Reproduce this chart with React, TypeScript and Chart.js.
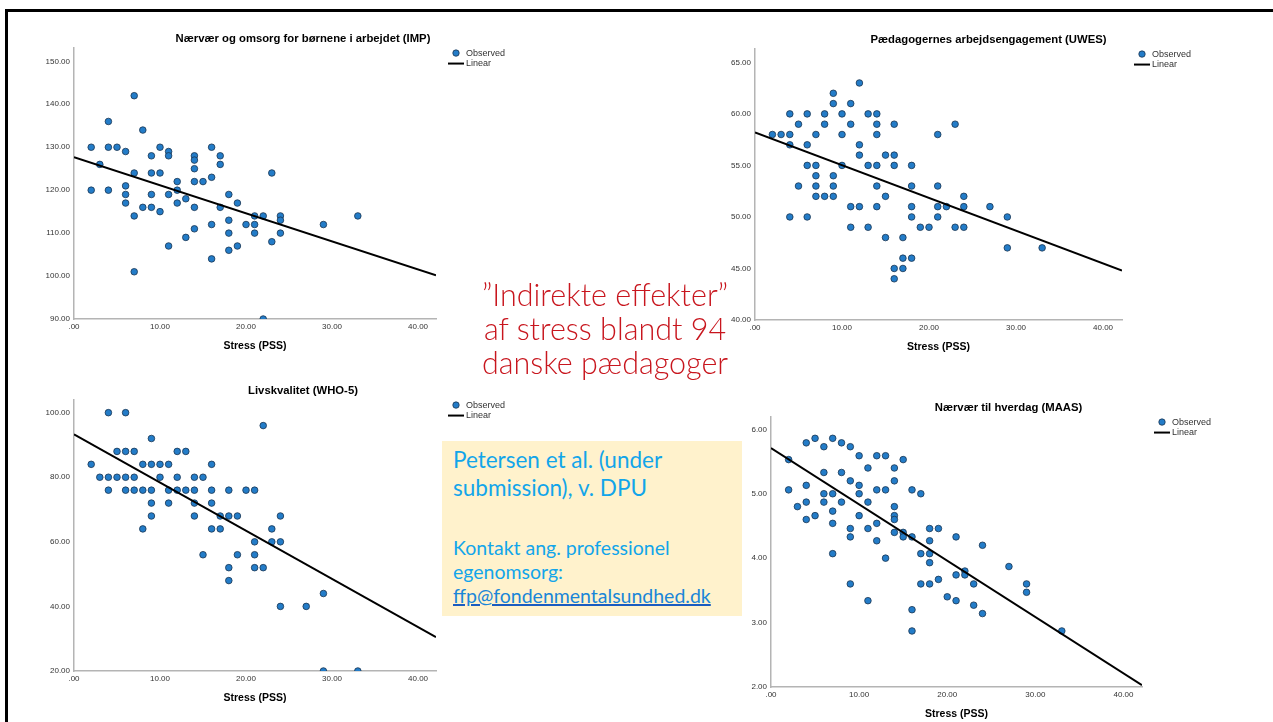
import React, { useEffect, useRef } from "react";
import { Chart, registerables } from "chart.js";
Chart.register(...registerables);

// ---------- data ----------
const legendLabels = ["Observed", "Linear"];
const xAxisTitle = "Stress (PSS)";
const stressTicks = [0, 10, 20, 30, 40];

const impTitle = "Nærvær og omsorg for børnene i arbejdet (IMP)";
const impStress = [2, 2, 3, 4, 4, 4, 5, 6, 6, 6, 6, 7, 7, 7, 7, 8, 8, 9, 9, 9, 9, 10, 10, 10, 11, 11, 11, 11, 12, 12, 12, 13, 13, 14, 14, 14, 14, 14, 14, 15, 16, 16, 16, 16, 17, 17, 17, 18, 18, 18, 18, 19, 19, 20, 21, 21, 21, 22, 22, 23, 23, 24, 24, 24, 29, 33];
const impValues = [130, 120, 126, 136, 130, 120, 130, 129, 121, 119, 117, 142, 124, 114, 101, 134, 116, 128, 124, 119, 116, 130, 124, 115, 129, 128, 119, 107, 122, 120, 117, 118, 109, 128, 127, 125, 122, 116, 111, 122, 130, 123, 112, 104, 128, 126, 116, 119, 113, 110, 106, 117, 107, 112, 114, 112, 110, 114, 90, 124, 108, 114, 113, 110, 112, 114];
const impTicks = [90, 100, 110, 120, 130, 140, 150];
const impFitX = [0, 42.09];
const impFitY = [127.7, 100.2];

const uwesTitle = "Pædagogernes arbejdsengagement (UWES)";
const uwesStress = [2, 3, 4, 4, 4, 4, 5, 5, 6, 6, 6, 6, 7, 7, 7, 7, 7, 8, 8, 8, 9, 9, 9, 9, 9, 10, 10, 10, 11, 11, 11, 11, 12, 12, 12, 12, 13, 13, 13, 14, 14, 14, 14, 14, 14, 15, 15, 15, 16, 16, 16, 16, 16, 17, 17, 17, 18, 18, 18, 18, 18, 19, 20, 21, 21, 21, 21, 22, 23, 23, 24, 24, 24, 27, 29, 29, 33];
const uwesValues = [58, 58, 60, 58, 57, 50, 59, 53, 60, 57, 55, 50, 58, 55, 54, 53, 52, 60, 59, 52, 62, 61, 54, 53, 52, 60, 58, 55, 61, 59, 51, 49, 63, 57, 56, 51, 60, 55, 49, 60, 59, 58, 55, 53, 51, 56, 52, 48, 59, 56, 55, 45, 44, 48, 46, 45, 55, 53, 51, 50, 46, 49, 49, 58, 53, 51, 50, 51, 59, 49, 52, 51, 49, 51, 50, 47, 47];
const uwesTicks = [40, 45, 50, 55, 60, 65];
const uwesFitX = [0, 42.18];
const uwesFitY = [58.2, 44.8];

const whoTitle = "Livskvalitet (WHO-5)";
const whoStress = [2, 3, 4, 4, 4, 5, 5, 6, 6, 6, 6, 7, 7, 7, 8, 8, 8, 9, 9, 9, 9, 9, 10, 10, 11, 11, 11, 12, 12, 12, 13, 13, 14, 14, 14, 14, 15, 15, 16, 16, 16, 16, 17, 17, 18, 18, 18, 18, 19, 19, 20, 21, 21, 21, 21, 22, 22, 23, 23, 24, 24, 24, 27, 29, 29, 33];
const whoValues = [84, 80, 100, 80, 76, 88, 80, 100, 88, 80, 76, 88, 80, 76, 84, 76, 64, 92, 84, 76, 72, 68, 84, 80, 84, 76, 72, 88, 80, 76, 88, 76, 80, 76, 72, 68, 80, 56, 84, 76, 72, 64, 68, 64, 76, 68, 52, 48, 68, 56, 76, 76, 60, 56, 52, 96, 52, 64, 60, 68, 60, 40, 40, 44, 20, 20];
const whoTicks = [20, 40, 60, 80, 100];
const whoFitX = [0, 42.09];
const whoFitY = [93.3, 30.5];

const maasTitle = "Nærvær til hverdag (MAAS)";
const maasStress = [2, 2, 3, 4, 4, 4, 4, 5, 5, 6, 6, 6, 6, 7, 7, 7, 7, 7, 8, 8, 8, 9, 9, 9, 9, 9, 10, 10, 10, 10, 11, 11, 11, 11, 12, 12, 12, 12, 13, 13, 13, 14, 14, 14, 14, 14, 14, 15, 15, 15, 16, 16, 16, 16, 17, 17, 17, 18, 18, 18, 18, 18, 19, 19, 20, 21, 21, 21, 22, 22, 23, 23, 24, 24, 27, 29, 29, 33];
const maasValues = [5.53, 5.06, 4.8, 5.79, 5.13, 4.87, 4.6, 5.86, 4.66, 5.73, 5.33, 5.0, 4.87, 5.86, 5.0, 4.73, 4.54, 4.07, 5.79, 5.33, 4.87, 5.73, 5.2, 4.46, 4.33, 3.6, 5.59, 5.13, 5.0, 4.66, 5.4, 4.87, 4.46, 3.34, 5.59, 5.06, 4.54, 4.27, 5.59, 5.06, 4.0, 5.4, 5.2, 4.8, 4.66, 4.6, 4.4, 5.53, 4.4, 4.33, 5.06, 4.33, 3.2, 2.87, 5.0, 4.07, 3.6, 4.46, 4.27, 4.07, 3.93, 3.6, 4.46, 3.67, 3.4, 4.33, 3.74, 3.34, 3.8, 3.74, 3.6, 3.27, 4.2, 3.14, 3.87, 3.6, 3.47, 2.87];
const maasTicks = [2, 3, 4, 5, 6];
const maasFitX = [0, 42.1];
const maasFitY = [5.71, 2.03];

const slideTitleLines = ["”Indirekte effekter”", "af stress blandt 94", "danske pædagoger"];
const boxLines1 = ["Petersen et al. (under", "submission), v. DPU"];
const boxLines2 = ["Kontakt ang. professionel", "egenomsorg:"];
const boxEmail = "ffp@fondenmentalsundhed.dk";

// ---------- styles ----------
const SANS = '"Liberation Sans", Arial, sans-serif';
const SLIDE = 'Lato, "Open Sans", sans-serif';
const POINT_FILL = "#237cc8";
const POINT_EDGE = "#1b3550";
const AXIS = "#b4b4b4";
const TICK = "#333333";

const fmt = (v: number) => (v === 0 ? ".00" : Number(v).toFixed(2));

const legendPlugin = {
  id: "spssLegend",
  afterDraw(chart: any) {
    const { ctx, chartArea } = chart;
    const x = chartArea.right + 20;
    const y = chartArea.top + 5.5;
    ctx.save();
    ctx.beginPath();
    ctx.arc(x, y, 3.2, 0, Math.PI * 2);
    ctx.fillStyle = POINT_FILL;
    ctx.fill();
    ctx.lineWidth = 0.8;
    ctx.strokeStyle = POINT_EDGE;
    ctx.stroke();
    ctx.beginPath();
    ctx.moveTo(x - 8, y + 10.5);
    ctx.lineTo(x + 8, y + 10.5);
    ctx.lineWidth = 2;
    ctx.strokeStyle = "#000";
    ctx.stroke();
    ctx.font = `9px ${SANS}`;
    ctx.fillStyle = TICK;
    ctx.textBaseline = "middle";
    ctx.textAlign = "left";
    ctx.fillText(legendLabels[0], x + 10, y);
    ctx.fillText(legendLabels[1], x + 10, y + 10.5);
    ctx.restore();
  },
};

type PanelProps = {
  title: string;
  xs: number[];
  ys: number[];
  fitX: number[];
  fitY: number[];
  yTicks: number[];
  xMax: number;
  yMin: number;
  yMax: number;
  left: number;
  top: number;
  width: number;
  height: number;
  yAxisW: number;
  rightW: number;
};

function Panel(p: PanelProps) {
  const ref = useRef<HTMLCanvasElement>(null);
  useEffect(() => {
    const chart = new Chart(ref.current as HTMLCanvasElement, {
      type: "scatter",
      data: {
        datasets: [
          {
            label: legendLabels[1],
            type: "line",
            data: p.fitX.map((x, i) => ({ x, y: p.fitY[i] })),
            borderColor: "#000",
            borderWidth: 2,
            pointRadius: 0,
            showLine: true,
            fill: false,
          } as any,
          {
            label: legendLabels[0],
            data: p.xs.map((x, i) => ({ x, y: p.ys[i] })),
            backgroundColor: POINT_FILL,
            borderColor: POINT_EDGE,
            borderWidth: 0.8,
            pointRadius: 3.3,
            pointHoverRadius: 3.3,
          },
        ],
      },
      options: {
        responsive: false,
        animation: false,
        events: [],
        layout: { padding: 0 },
        plugins: {
          legend: { display: false },
          tooltip: { enabled: false },
          title: {
            display: true,
            text: p.title,
            color: "#000",
            font: { family: SANS, size: 11.3, weight: "bold" },
            padding: { top: 3, bottom: 2 },
          },
        },
        scales: {
          x: {
            type: "linear",
            position: "bottom",
            min: 0,
            max: p.xMax,
            grid: { display: false, drawTicks: false },
            border: { display: true, color: AXIS, width: 1.5 },
            ticks: {
              padding: 3,
              color: TICK,
              font: { family: SANS, size: 8 },
              callback: (v: any) => fmt(v),
              includeBounds: false,
              autoSkip: false,
              maxRotation: 0,
            },
            afterBuildTicks: (s: any) => {
              s.ticks = stressTicks.map((v) => ({ value: v }));
            },
            afterFit: (s: any) => {
              s.height = 36;
            },
            title: {
              display: true,
              text: xAxisTitle,
              color: "#000",
              font: { family: SANS, size: 10.5, weight: "bold" },
              padding: { top: 0, bottom: 3 },
            },
          },
          y: {
            type: "linear",
            position: "left",
            min: p.yMin,
            max: p.yMax,
            grid: { display: false, drawTicks: false },
            border: { display: true, color: AXIS, width: 1.5 },
            ticks: {
              padding: 4,
              color: TICK,
              font: { family: SANS, size: 8 },
              callback: (v: any) => fmt(v),
              includeBounds: false,
              autoSkip: false,
            },
            afterBuildTicks: (s: any) => {
              s.ticks = p.yTicks.map((v) => ({ value: v }));
            },
            afterFit: (s: any) => {
              s.width = p.yAxisW;
            },
          },
          pad: {
            type: "linear",
            position: "right",
            display: true,
            grid: { display: false, drawTicks: false },
            border: { display: false },
            ticks: { display: false },
            afterFit: (s: any) => {
              s.width = p.rightW;
            },
          },
        },
      } as any,
      plugins: [legendPlugin],
    });
    return () => chart.destroy();
  }, []);
  return (
    <canvas
      ref={ref}
      width={p.width}
      height={p.height}
      style={{ position: "absolute", left: p.left, top: p.top, width: p.width, height: p.height }}
    />
  );
}

export default function App() {
  return (
    <div
      style={{
        position: "absolute",
        left: 0,
        top: 0,
        width: 1273,
        height: 722,
        overflow: "hidden",
        background: "#fff",
      }}
    >
      <div style={{ position: "absolute", left: 5, top: 9, width: 1268, height: 3, background: "#000" }} />
      <div style={{ position: "absolute", left: 5, top: 9, width: 3, height: 713, background: "#000" }} />

      <Panel title={impTitle} xs={impStress} ys={impValues} fitX={impFitX} fitY={impFitY} yTicks={impTicks}
        xMax={42.09} yMin={90} yMax={153.21} left={30} top={29} width={546} height={326} yAxisW={44} rightW={140} />
      <Panel title={uwesTitle} xs={uwesStress} ys={uwesValues} fitX={uwesFitX} fitY={uwesFitY} yTicks={uwesTicks}
        xMax={42.18} yMin={40} yMax={66.34} left={711} top={30} width={555} height={326} yAxisW={44} rightW={144} />
      <Panel title={whoTitle} xs={whoStress} ys={whoValues} fitX={whoFitX} fitY={whoFitY} yTicks={whoTicks}
        xMax={42.09} yMin={20} yMax={104.06} left={30} top={381} width={546} height={326} yAxisW={44} rightW={140} />
      <Panel title={maasTitle} xs={maasStress} ys={maasValues} fitX={maasFitX} fitY={maasFitY} yTicks={maasTicks}
        xMax={42.1} yMin={2} yMax={6.198} left={727} top={398} width={563} height={325} yAxisW={44} rightW={148} />

      <div
        style={{
          position: "absolute",
          left: 455,
          top: 277,
          width: 300,
          textAlign: "center",
          fontFamily: SLIDE,
          fontWeight: 300,
          fontSize: 30.5,
          lineHeight: "34px",
          color: "#c8161e",
          whiteSpace: "nowrap",
        }}
      >
        {slideTitleLines.map((l, i) => (
          <div key={i}>{l}</div>
        ))}
      </div>

      <div style={{ position: "absolute", left: 442, top: 441, width: 300, height: 175, background: "#fff2cc" }} />
      <div
        style={{
          position: "absolute",
          left: 453,
          top: 446,
          fontFamily: SLIDE,
          fontSize: 22.5,
          lineHeight: "28.4px",
          color: "#12a5ea",
          whiteSpace: "nowrap",
        }}
      >
        {boxLines1.map((l, i) => (
          <div key={i}>{l}</div>
        ))}
      </div>
      <div
        style={{
          position: "absolute",
          left: 453,
          top: 536,
          fontFamily: SLIDE,
          fontSize: 19.5,
          lineHeight: "24px",
          color: "#12a5ea",
          whiteSpace: "nowrap",
        }}
      >
        {boxLines2.map((l, i) => (
          <div key={i}>{l}</div>
        ))}
        <div
          style={{
            color: "#1a86d8",
            textDecoration: "underline",
            textDecorationColor: "#1a5cc0",
            textDecorationThickness: "2px",
          }}
        >
          {boxEmail}
        </div>
      </div>
    </div>
  );
}
